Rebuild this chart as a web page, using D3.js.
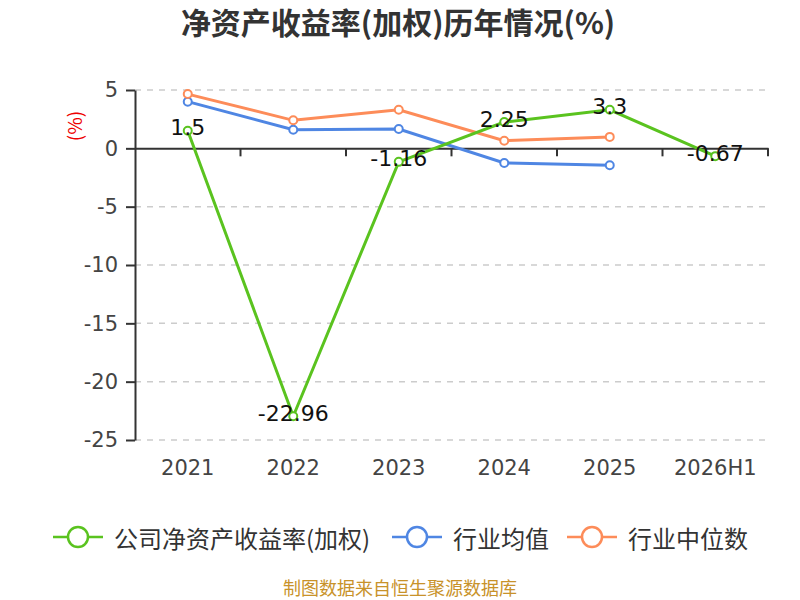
<!DOCTYPE html>
<html>
<head>
<meta charset="utf-8">
<script src="https://cdn.jsdelivr.net/npm/d3@7"></script>
<style>
  body { margin: 0; background: #fff; }
  svg { font-family: "Noto Sans CJK SC", "Noto Sans", sans-serif; }
  .num { font-family: "DejaVu Sans", sans-serif; }
</style>
</head>
<body>
<svg id="chart" width="800" height="600"></svg>
<script>
const categories = ['2021', '2022', '2023', '2024', '2025', '2026H1'];
const companyRoe = [1.5, -22.96, -1.16, 2.25, 3.3, -0.67];
const industryAvg = [4.0, 1.6, 1.65, -1.25, -1.45, null];
const industryMedian = [4.65, 2.4, 3.3, 0.65, 0.98, null];
const yTicks = [5, 0, -5, -10, -15, -20, -25];

const seriesList = [
  { name: '行业均值', values: industryAvg, color: '#4f86e3', labels: false },
  { name: '行业中位数', values: industryMedian, color: '#fd8c59', labels: false },
  { name: '公司净资产收益率(加权)', values: companyRoe, color: '#5ac31f', labels: true },
];
const legendOrder = [2, 0, 1];
const legendX = [53, 392, 567];

const margin = { left: 135, right: 32, top: 90, bottom: 160 };
const width = 800;
const height = 600;

const svg = d3.select('#chart');

const x = d3.scaleBand()
  .domain(categories)
  .range([margin.left, width - margin.right]);

const y = d3.scaleLinear()
  .domain([-25, 5])
  .range([height - margin.bottom, margin.top]);

// title
svg.append('text')
  .attr('x', 398)
  .attr('y', 34)
  .attr('text-anchor', 'middle')
  .attr('font-size', 30)
  .attr('font-weight', 'bold')
  .attr('fill', '#333')
  .text('净资产收益率(加权)历年情况(%)');

// unit label
svg.append('text')
  .attr('transform', 'translate(73,126) rotate(-90)')
  .attr('text-anchor', 'middle')
  .attr('dominant-baseline', 'central')
  .attr('font-size', 19)
  .attr('fill', '#e00')
  .text('(%)');

// grid lines
svg.append('g')
  .selectAll('line')
  .data(yTicks.filter((t) => t !== 0))
  .enter()
  .append('line')
  .attr('x1', margin.left)
  .attr('x2', width - margin.right)
  .attr('y1', (d) => y(d))
  .attr('y2', (d) => y(d))
  .attr('stroke', '#ccc')
  .attr('stroke-width', 1.5)
  .attr('stroke-dasharray', '6,6');

// y axis
const yAxis = svg.append('g')
  .attr('transform', 'translate(' + margin.left + ',0)')
  .call(d3.axisLeft(y).tickValues(yTicks).tickSize(9).tickSizeOuter(0).tickFormat((d) => String(d)));
yAxis.select('.domain').attr('stroke', '#333').attr('stroke-width', 2);
yAxis.selectAll('.tick line').attr('stroke', '#333').attr('stroke-width', 2);
yAxis.selectAll('.tick text')
  .attr('class', 'num')
  .attr('font-size', 21)
  .attr('fill', '#444')
  .attr('x', -17);

// x axis at zero
const xAxis = svg.append('g')
  .attr('transform', 'translate(0,' + y(0) + ')')
  .call(d3.axisBottom(x).tickSize(0).tickSizeOuter(0));
xAxis.select('.domain').attr('stroke', '#333').attr('stroke-width', 2);
xAxis.selectAll('.tick text').remove();

const boundaries = categories.map((c) => x(c)).concat([width - margin.right]).slice(1);
xAxis.selectAll('.bound')
  .data(boundaries)
  .enter()
  .append('line')
  .attr('x1', (d) => d)
  .attr('x2', (d) => d)
  .attr('y1', 0)
  .attr('y2', 8)
  .attr('stroke', '#333')
  .attr('stroke-width', 2);

// x labels at bottom
svg.append('g')
  .selectAll('text')
  .data(categories)
  .enter()
  .append('text')
  .attr('class', 'num')
  .attr('x', (d) => x(d) + x.bandwidth() / 2)
  .attr('y', height - margin.bottom + 35)
  .attr('text-anchor', 'middle')
  .attr('font-size', 21)
  .attr('fill', '#444')
  .text((d) => d);

const cx = (i) => x(categories[i]) + x.bandwidth() / 2;

const line = d3.line()
  .defined((d) => d != null)
  .x((d, i) => cx(i))
  .y((d) => y(d));

seriesList.forEach((s) => {
  const g = svg.append('g');
  g.append('path')
    .datum(s.values)
    .attr('d', line)
    .attr('fill', 'none')
    .attr('stroke', s.color)
    .attr('stroke-width', 3);
  const pts = s.values.map((v, i) => ({ v, i })).filter((p) => p.v != null);
  g.selectAll('circle')
    .data(pts)
    .enter()
    .append('circle')
    .attr('cx', (d) => cx(d.i))
    .attr('cy', (d) => y(d.v))
    .attr('r', 4)
    .attr('fill', '#fff')
    .attr('stroke', s.color)
    .attr('stroke-width', 2);
  if (s.labels) {
    g.selectAll('.lbl')
      .data(pts)
      .enter()
      .append('text')
      .attr('class', 'num')
      .attr('x', (d) => cx(d.i))
      .attr('y', (d) => y(d.v) - 3)
      .attr('dominant-baseline', 'central')
      .attr('text-anchor', 'middle')
      .attr('font-size', 22)
      .attr('fill', '#111')
      .text((d) => d.v);
  }
});

// legend
legendOrder.forEach((idx, k) => {
  const s = seriesList[idx];
  const g = svg.append('g').attr('transform', 'translate(' + legendX[k] + ',537)');
  g.append('line')
    .attr('x1', 0).attr('x2', 50)
    .attr('y1', 0).attr('y2', 0)
    .attr('stroke', s.color)
    .attr('stroke-width', 2.5);
  g.append('circle')
    .attr('cx', 25).attr('cy', 0).attr('r', 10)
    .attr('fill', '#fff')
    .attr('stroke', s.color)
    .attr('stroke-width', 2.5);
  g.append('text')
    .attr('x', 61)
    .attr('y', 0)
    .attr('dominant-baseline', 'central')
    .attr('font-size', 24)
    .attr('fill', '#333')
    .text(s.name);
});

// source
svg.append('text')
  .attr('x', 400)
  .attr('y', 595)
  .attr('text-anchor', 'middle')
  .attr('font-size', 18)
  .attr('fill', '#c8922a')
  .text('制图数据来自恒生聚源数据库');
</script>
</body>
</html>
